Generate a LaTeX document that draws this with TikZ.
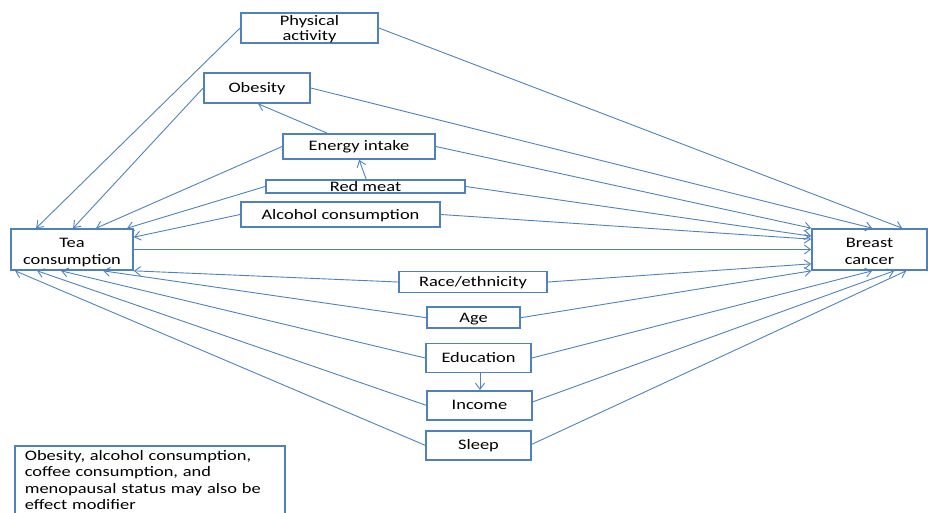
\documentclass[tikz,border=0pt]{standalone}
\usepackage{fontspec}
\setmainfont{Carlito}[FakeStretch=1.27]
\usetikzlibrary{positioning, arrows.meta, calc}
\definecolor{dagblue}{RGB}{79,129,189}
\tikzset{
    factor/.style={rectangle, draw=dagblue, line width=1.7pt, inner sep=0pt, align=center,
      font=\fontsize{14.5}{17}\selectfont},
    oneline/.style={text height=10.5pt, text depth=1.5pt},
    twoline/.style={text height=29.4pt, text depth=0pt},
}

\begin{document}
\begin{tikzpicture}[x=1pt, y=-1pt]
    \tikzset{
      >={Straight Barb[length=6pt, width=9pt]},
      every edge/.append style={draw=dagblue, line width=0.9pt}
    }
    \useasboundingbox (0,0) rectangle (928,513);
    \clip (0,0) rectangle (928,513);

    \node[factor, font=\fontsize{14.5}{15}\selectfont, text height=27.4pt, text depth=1.4pt,
      minimum width=137pt, minimum height=30pt] (phys) at (309.5,28) {Physical\\activity};
    \node[factor, oneline, minimum width=106pt, minimum height=30pt] (obes) at (257,88) {Obesity};
    \node[factor, oneline, minimum width=152pt, minimum height=25pt] (energy) at (359,146.5) {Energy intake};
    \node[factor, oneline, minimum width=199pt, minimum height=13pt] (meat) at (365.5,186.5) {Red meat};
    \node[factor, oneline, minimum width=199pt, minimum height=25pt] (alcohol) at (340.5,214.5) {Alcohol consumption};
    \node[factor, twoline, minimum width=122pt, minimum height=41pt] (tea) at (72,249.5) {Tea\\consumption};
    \node[factor, twoline, minimum width=115pt, minimum height=41pt] (breast) at (869.5,249.5) {Breast\\cancer};
    \node[factor, oneline, minimum width=148pt, minimum height=21pt] (race) at (473,282) {Race/ethnicity};
    \node[factor, oneline, minimum width=93pt, minimum height=21pt] (age) at (473.5,317.7) {Age};
    \node[factor, oneline, minimum width=105pt, minimum height=29pt] (edu) at (478.5,358) {Education};
    \node[factor, oneline, minimum width=105pt, minimum height=29pt] (income) at (479.5,405.3) {Income};
    \node[factor, oneline, minimum width=105pt, minimum height=29pt] (sleep) at (478.5,445.3) {Sleep};
    \node[factor, anchor=north west, inner xsep=10pt, inner ysep=4.5pt, text width=250pt, align=left,
      font=\fontsize{14.5}{16.5}\selectfont]
      (note) at (14,445) {Obesity, alcohol consumption,\\coffee consumption, and\\menopausal status may also be\\effect modifier};

    \draw (phys.west) edge[->] ([xshift=26pt]tea.north west);
    \draw (obes.west) edge[->] ([xshift=63pt]tea.north west);
    \draw (energy.west) edge[->] ([xshift=86pt]tea.north west);
    \draw (meat.west) edge[->] ([xshift=117pt]tea.north west);
    \draw (alcohol.west) edge[->] ([yshift=-9pt]tea.north east);
    \draw ([xshift=45pt]energy.north west) edge[->] ([xshift=55pt]obes.south west);
    \draw ([xshift=101pt]meat.north west) edge[->] ([xshift=77pt]energy.south west);

    \draw (tea.east) edge[->] (breast.west);

    \draw (phys.east) edge[->] ([xshift=91pt]breast.north west);
    \draw (obes.east) edge[->] ([xshift=61pt]breast.north west);
    \draw (energy.east) edge[->] (breast.north west);
    \draw (meat.east) edge[->] ([yshift=-8pt]breast.north west);
    \draw (alcohol.east) edge[->] ([yshift=-11pt]breast.north west);
    \draw (race.east) edge[->] ([yshift=7pt]breast.south west);
    \draw (age.east) edge[->] (breast.south west);
    \draw (edu.east) edge[->] ([xshift=61pt]breast.south west);
    \draw ([yshift=3.5pt]income.east) edge[->] ([xshift=83pt]breast.south west);
    \draw ([yshift=1pt]sleep.east) edge[->] ([xshift=95pt]breast.south west);

    \draw (race.west) edge[->] (tea.south east);
    \draw (age.west) edge[->] ([xshift=93pt]tea.south west);
    \draw (edu.west) edge[->] ([xshift=51pt]tea.south west);
    \draw (income.west) edge[->] ([xshift=27pt]tea.south west);
    \draw (sleep.west) edge[->] ([xshift=5pt]tea.south west);

    \draw ([xshift=1.5pt]edu.south) edge[->] ([xshift=0.5pt]income.north);
  \end{tikzpicture}
\end{document}
